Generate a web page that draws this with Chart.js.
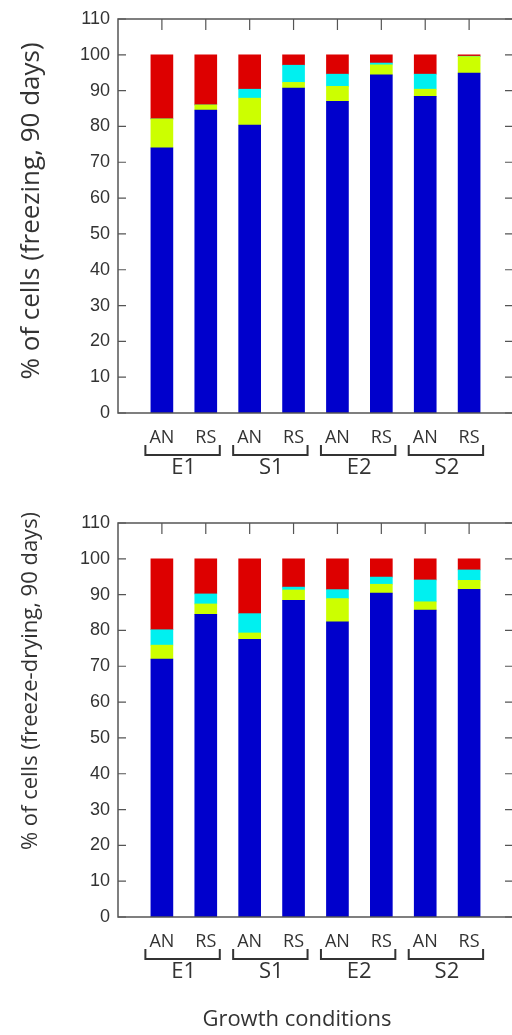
<!DOCTYPE html>
<html>
<head>
<meta charset="utf-8">
<script src="https://cdn.jsdelivr.net/npm/chart.js@4/dist/chart.umd.min.js"></script>
<style>
  html, body { margin: 0; padding: 0; background: #fff; overflow: hidden; width: 512px; height: 1035px; }
  canvas { position: absolute; left: 0; }
  #freezing { top: 0; }
  #drying { top: 490px; }
</style>
</head>
<body>
<canvas id="freezing" width="520" height="490"></canvas>
<canvas id="drying" width="520" height="545"></canvas>
<script>
'use strict';

// bar labels and their grouping
const conditions = ['AN', 'RS', 'AN', 'RS', 'AN', 'RS', 'AN', 'RS'];
const groups = ['E1', 'S1', 'E2', 'S2'];
const yTicks = [0, 10, 20, 30, 40, 50, 60, 70, 80, 90, 100, 110];

// freezing, 90 days (segment heights, bottom to top)
const freezeBlue   = [74.0, 84.6, 80.4, 90.7, 87.0, 94.4, 88.4, 94.9];
const freezeYellow = [8.1, 1.4, 7.5, 1.6, 4.2, 2.8, 2.0, 4.6];
const freezeCyan   = [0.0, 0.0, 2.5, 4.8, 3.4, 0.5, 4.2, 0.1];
const freezeRed    = [17.9, 14.0, 9.6, 2.9, 5.4, 2.3, 5.4, 0.4];

// freeze-drying, 90 days
const dryBlue   = [72.0, 84.5, 77.5, 88.4, 82.4, 90.4, 85.7, 91.5];
const dryYellow = [3.9, 2.9, 1.8, 2.9, 6.5, 2.5, 2.3, 2.5];
const dryCyan   = [4.3, 2.8, 5.4, 0.8, 2.5, 2.0, 6.1, 2.9];
const dryRed    = [19.8, 9.8, 15.3, 7.9, 8.6, 5.1, 5.9, 3.1];

const colors = ['#0000cc', '#ccff00', '#00f0f0', '#dd0000'];
const axisColor = '#555';
const textColor = '#333';

// frame, inward ticks, group brackets and titles
const framePlugin = {
    id: 'frame',
    afterDraw(chart, args, opts) {
        const { ctx, chartArea: a, scales } = chart;
        const xs = scales.x, ys = scales.y;
        ctx.save();
        ctx.strokeStyle = axisColor;
        ctx.lineWidth = 1.5;
        ctx.strokeRect(a.left, a.top, a.right - a.left, a.bottom - a.top);
        ctx.lineWidth = 1.2;
        ctx.beginPath();
        yTicks.forEach(v => {
            const y = ys.getPixelForValue(v);
            ctx.moveTo(a.left, y); ctx.lineTo(a.left + 8, y);
            ctx.moveTo(a.right, y); ctx.lineTo(a.right - 8, y);
        });
        conditions.forEach((c, i) => {
            const x = xs.getPixelForValue(i + 1);
            ctx.moveTo(x, a.top); ctx.lineTo(x, a.top + 11);
        });
        ctx.stroke();

        ctx.strokeStyle = textColor;
        ctx.lineWidth = 2;
        ctx.fillStyle = textColor;
        ctx.font = '22px "Open Sans"';
        ctx.textAlign = 'center';
        ctx.textBaseline = 'middle';
        groups.forEach((g, k) => {
            const x1 = xs.getPixelForValue(2 * k + 1) - 16.5;
            const x2 = xs.getPixelForValue(2 * k + 2) + 14;
            const yTop = a.bottom + 32, yBot = a.bottom + 42;
            ctx.beginPath();
            ctx.moveTo(x1, yTop); ctx.lineTo(x1, yBot); ctx.lineTo(x2, yBot); ctx.lineTo(x2, yTop);
            ctx.stroke();
            ctx.fillText(g, (x1 + x2) / 2 + 1, a.bottom + 55);
        });

        if (opts.xTitle) {
            ctx.font = '22px "Open Sans"';
            ctx.fillText(opts.xTitle, 297, a.bottom + 103);
        }

        // y title (not centred on the axis in the original)
        ctx.translate(opts.yTitleX, opts.yTitleY);
        ctx.rotate(-Math.PI / 2);
        ctx.font = opts.yTitleSize + 'px "Open Sans"';
        ctx.fillText(opts.yTitle, 0, 0);
        ctx.restore();
    }
};

function makeChart(id, series, title, padTop, xHeight, xTitle) {
    const ctx = document.getElementById(id).getContext('2d');
    const datasets = series.map((vals, s) => ({
        label: 'Fraction ' + (s + 1),
        data: vals.map((v, i) => ({ x: i + 1, y: v })),
        backgroundColor: colors[s],
        borderWidth: 0,
        barThickness: 22
    }));
    return new Chart(ctx, {
        type: 'bar',
        data: { datasets: datasets },
        options: {
            responsive: false,
            animation: false,
            devicePixelRatio: 1,
            layout: { padding: { top: padTop, right: 7, bottom: 0, left: 0 } },
            plugins: {
                legend: { display: false },
                tooltip: { enabled: false },
                frame: Object.assign({ xTitle: xTitle }, title)
            },
            scales: {
                x: {
                    type: 'linear',
                    stacked: true,
                    offset: false,
                    min: 0,
                    max: 9,
                    grid: { display: false, drawTicks: false },
                    border: { display: false },
                    afterFit: s => { s.height = xHeight; },
                    afterBuildTicks: s => { s.ticks = conditions.map((c, i) => ({ value: i + 1 })); },
                    ticks: {
                        autoSkip: false,
                        maxRotation: 0,
                        padding: 14,
                        color: textColor,
                        font: { family: '"Open Sans"', size: 18 },
                        callback: v => conditions[v - 1] || ''
                    }
                },
                y: {
                    stacked: true,
                    min: 0,
                    max: 110,
                    grid: { display: false, drawTicks: false },
                    border: { display: false },
                    afterFit: s => { s.width = 118; },
                    afterBuildTicks: s => { s.ticks = yTicks.map(v => ({ value: v })); },
                    ticks: {
                        padding: 8,
                        color: textColor,
                        font: { family: '"Liberation Sans"', size: 18 }
                    }
                }
            }
        },
        plugins: [framePlugin]
    });
}

makeChart('freezing', [freezeBlue, freezeYellow, freezeCyan, freezeRed],
    { yTitle: '% of cells (freezing, 90 days)', yTitleX: 32, yTitleY: 211, yTitleSize: 26 },
    19, 77, null);
makeChart('drying', [dryBlue, dryYellow, dryCyan, dryRed],
    { yTitle: '% of cells (freeze-drying, 90 days)', yTitleX: 31, yTitleY: 191, yTitleSize: 22 },
    33, 118, 'Growth conditions');
</script>
</body>
</html>
